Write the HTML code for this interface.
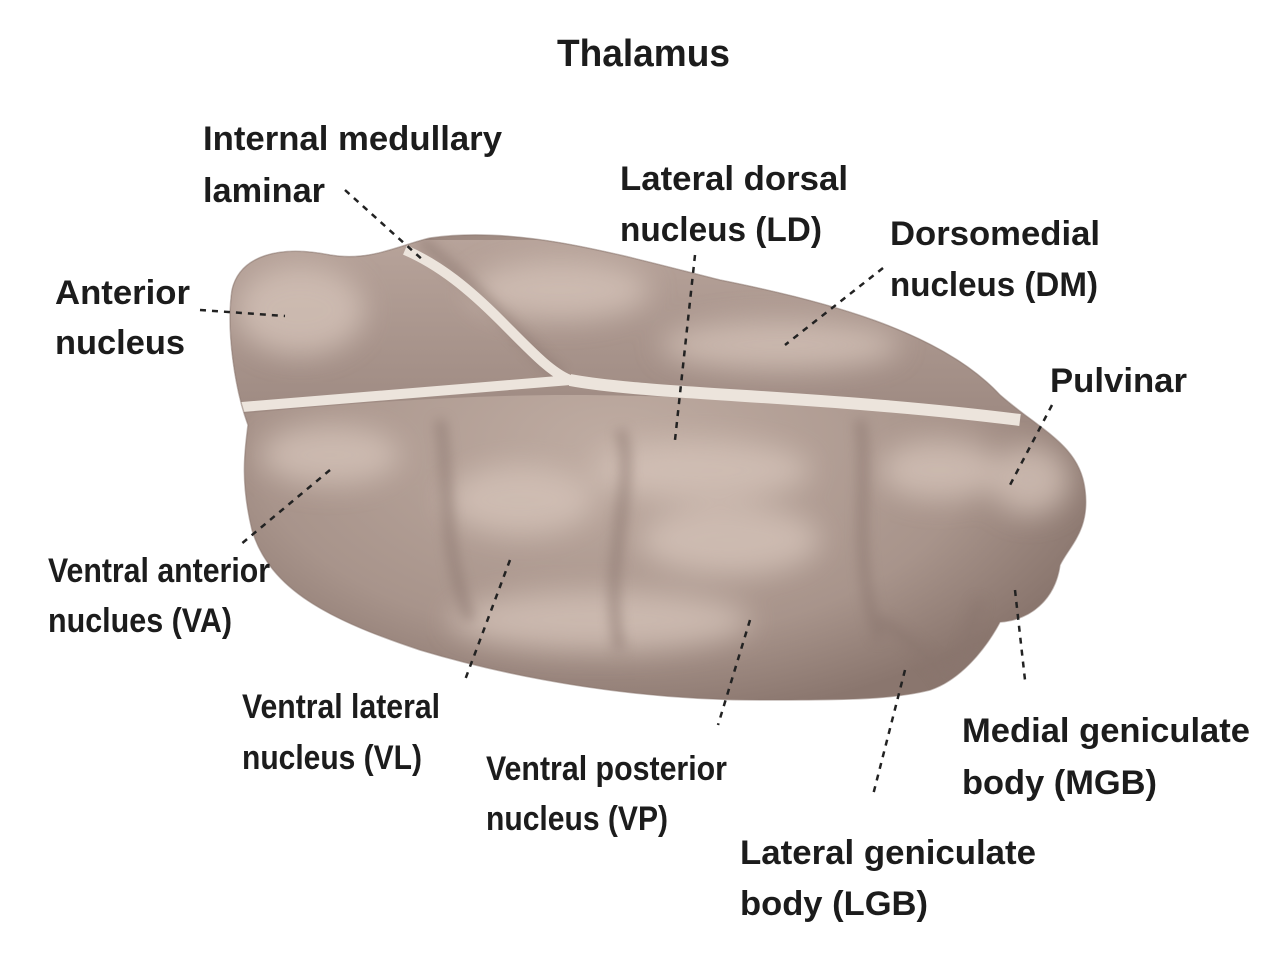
<!DOCTYPE html>
<html><head><meta charset="utf-8"><style>
html,body{margin:0;padding:0;background:#fff;}
svg{display:block}
text{font-family:"Liberation Sans Narrow","Liberation Sans",sans-serif;fill:#1c1c1c;font-size:34px;font-weight:bold;}
</style></head><body>
<svg width="1280" height="961" viewBox="0 0 1280 961" xmlns="http://www.w3.org/2000/svg">
<defs>
<radialGradient id="body" cx="0.45" cy="0.45" r="0.6">
<stop offset="0" stop-color="#bfaca2"/><stop offset="0.7" stop-color="#a8948b"/><stop offset="1" stop-color="#8a766e"/>
</radialGradient>
<linearGradient id="top" x1="0" y1="0" x2="0" y2="1">
<stop offset="0" stop-color="#b7a39a"/><stop offset="1" stop-color="#9c8880"/>
</linearGradient>
<filter id="blur" x="-20%" y="-20%" width="140%" height="140%"><feGaussianBlur stdDeviation="14"/></filter>
<filter id="blur2" x="-20%" y="-20%" width="140%" height="140%"><feGaussianBlur stdDeviation="6"/></filter>
<clipPath id="clip"><path id="outline" d="M232,290 C240,255 280,245 330,255 C370,262 400,245 430,238 C520,225 620,255 720,280 C820,300 940,330 1000,395 C1040,430 1080,445 1085,490 C1090,530 1070,545 1060,565 C1055,600 1030,620 1000,622 C985,650 960,680 930,690 C890,700 840,700 760,700 C640,700 520,680 420,650 C330,620 270,590 252,530 C240,480 245,450 248,425 C235,390 226,330 232,290 Z"/></clipPath>
</defs>
<use href="#outline" fill="url(#body)"/>
<g clip-path="url(#clip)">
<path d="M225,240 L1100,240 L1100,430 L1000,420 C900,408 700,395 570,395 C450,395 330,405 230,415 Z" fill="url(#top)"/>
<g filter="url(#blur)" fill="#d6c4ba" opacity="0.75">
<ellipse cx="300" cy="310" rx="65" ry="45"/>
<ellipse cx="560" cy="290" rx="90" ry="30"/>
<ellipse cx="780" cy="345" rx="120" ry="25"/>
<ellipse cx="330" cy="455" rx="70" ry="30"/>
<ellipse cx="520" cy="500" rx="75" ry="35"/>
<ellipse cx="700" cy="470" rx="110" ry="30"/>
<ellipse cx="730" cy="540" rx="90" ry="35"/>
<ellipse cx="940" cy="470" rx="60" ry="30"/>
<ellipse cx="1030" cy="480" rx="40" ry="35"/>
<ellipse cx="600" cy="620" rx="150" ry="30"/>
</g>
<g filter="url(#blur2)" fill="none" stroke="#8a766e" stroke-width="10" opacity="0.6">
<path d="M440,420 C450,480 440,540 470,620"/>
<path d="M620,430 C640,480 600,560 620,650"/>
<path d="M860,420 C870,480 850,560 880,640"/>
<path d="M420,240 C470,280 520,340 560,375"/>
<path d="M980,600 C970,630 960,660 960,690"/>
<path d="M880,620 C910,640 935,660 950,690"/>
</g>
<path d="M405,250 C440,265 470,290 500,320 C530,350 550,372 570,380 C460,390 350,398 230,408" fill="none" stroke="#ece4dc" stroke-width="10"/>
<path d="M570,380 C650,395 820,395 1020,420" fill="none" stroke="#ece4dc" stroke-width="12"/>
</g>
<use href="#outline" fill="none" stroke="#8a766e" stroke-width="1.5" opacity="0.5"/>
<g stroke="#222" stroke-width="2.5" stroke-dasharray="6,6" fill="none">
<line x1="345" y1="190" x2="425" y2="262"/>
<line x1="200" y1="310" x2="285" y2="316"/>
<line x1="695" y1="255" x2="675" y2="440"/>
<line x1="883" y1="268" x2="785" y2="345"/>
<line x1="1052" y1="405" x2="1010" y2="485"/>
<line x1="330" y1="470" x2="240" y2="545"/>
<line x1="510" y1="560" x2="465" y2="680"/>
<line x1="750" y1="620" x2="718" y2="725"/>
<line x1="905" y1="670" x2="873" y2="795"/>
<line x1="1015" y1="590" x2="1025" y2="680"/>
</g>
<g>
<text x="557" y="66" style="font-size:38px" textLength="173" lengthAdjust="spacingAndGlyphs">Thalamus</text>
<text x="203" y="150" textLength="299" lengthAdjust="spacingAndGlyphs">Internal medullary</text>
<text x="203" y="202" textLength="122" lengthAdjust="spacingAndGlyphs">laminar</text>
<text x="55" y="304" textLength="135" lengthAdjust="spacingAndGlyphs">Anterior</text>
<text x="55" y="354" textLength="130" lengthAdjust="spacingAndGlyphs">nucleus</text>
<text x="620" y="190" textLength="228" lengthAdjust="spacingAndGlyphs">Lateral dorsal</text>
<text x="620" y="241" textLength="202" lengthAdjust="spacingAndGlyphs">nucleus (LD)</text>
<text x="890" y="245" textLength="210" lengthAdjust="spacingAndGlyphs">Dorsomedial</text>
<text x="890" y="296" textLength="208" lengthAdjust="spacingAndGlyphs">nucleus (DM)</text>
<text x="1050" y="392" textLength="137" lengthAdjust="spacingAndGlyphs">Pulvinar</text>
<text x="48" y="582" textLength="222" lengthAdjust="spacingAndGlyphs">Ventral anterior</text>
<text x="48" y="632" textLength="184" lengthAdjust="spacingAndGlyphs">nuclues (VA)</text>
<text x="242" y="718" textLength="198" lengthAdjust="spacingAndGlyphs">Ventral lateral</text>
<text x="242" y="769" textLength="180" lengthAdjust="spacingAndGlyphs">nucleus (VL)</text>
<text x="486" y="780" textLength="241" lengthAdjust="spacingAndGlyphs">Ventral posterior</text>
<text x="486" y="830" textLength="182" lengthAdjust="spacingAndGlyphs">nucleus (VP)</text>
<text x="962" y="742" textLength="288" lengthAdjust="spacingAndGlyphs">Medial geniculate</text>
<text x="962" y="794" textLength="195" lengthAdjust="spacingAndGlyphs">body (MGB)</text>
<text x="740" y="864" textLength="296" lengthAdjust="spacingAndGlyphs">Lateral geniculate</text>
<text x="740" y="915" textLength="188" lengthAdjust="spacingAndGlyphs">body (LGB)</text>
</g>
</svg>
</body></html>
